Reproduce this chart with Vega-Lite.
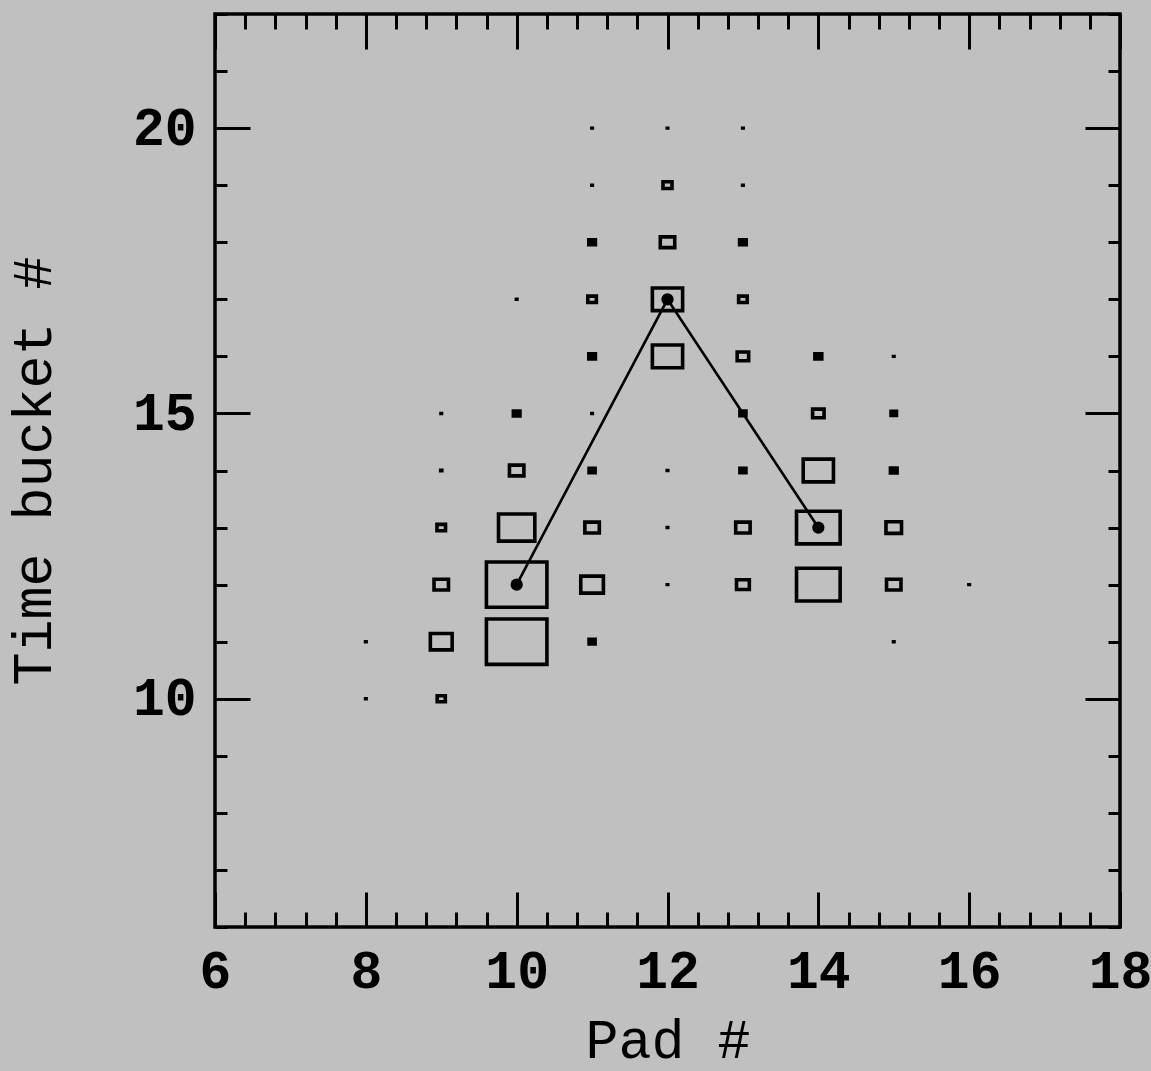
{
  "$schema": "https://vega.github.io/schema/vega-lite/v6.json",
  "width": 905,
  "height": 913,
  "autosize": {"type": "none"},
  "padding": {"left": 215, "top": 14, "right": 31, "bottom": 144},
  "background": "#c0c0c0",
  "config": {
    "view": {"stroke": "black", "strokeWidth": 3.5, "fill": null},
    "axis": {
      "domain": false,
      "grid": false,
      "tickColor": "black",
      "tickWidth": 3,
      "labelFont": "Liberation Mono",
      "labelFontWeight": "bold",
      "labelFontSize": 53,
      "labelColor": "black",
      "labelFlush": false,
      "labelOverlap": false,
      "labelBound": false,
      "titleFont": "Liberation Mono",
      "titleFontWeight": "normal",
      "titleFontSize": 55,
      "titleColor": "black"
    }
  },
  "datasets": {
    "cells": [
      {"pad": 8, "bucket": 11, "q": 0.2},
      {"pad": 8, "bucket": 10, "q": 0.2},
      {"pad": 9, "bucket": 15, "q": 0.2},
      {"pad": 9, "bucket": 14, "q": 0.3},
      {"pad": 9, "bucket": 13, "q": 2.0},
      {"pad": 9, "bucket": 12, "q": 5.7},
      {"pad": 9, "bucket": 11, "q": 13},
      {"pad": 9, "bucket": 10, "q": 1.8},
      {"pad": 10, "bucket": 17, "q": 0.2},
      {"pad": 10, "bucket": 15, "q": 1.2},
      {"pad": 10, "bucket": 14, "q": 5.7},
      {"pad": 10, "bucket": 13, "q": 36},
      {"pad": 10, "bucket": 12, "q": 100},
      {"pad": 10, "bucket": 11, "q": 100},
      {"pad": 11, "bucket": 20, "q": 0.2},
      {"pad": 11, "bucket": 19, "q": 0.2},
      {"pad": 11, "bucket": 18, "q": 1.2},
      {"pad": 11, "bucket": 17, "q": 2.0},
      {"pad": 11, "bucket": 16, "q": 1.2},
      {"pad": 11, "bucket": 15, "q": 0.2},
      {"pad": 11, "bucket": 14, "q": 1.0},
      {"pad": 11, "bucket": 13, "q": 5.7},
      {"pad": 11, "bucket": 12, "q": 14},
      {"pad": 11, "bucket": 11, "q": 1.0},
      {"pad": 12, "bucket": 20, "q": 0.2},
      {"pad": 12, "bucket": 19, "q": 2.2},
      {"pad": 12, "bucket": 18, "q": 5.7},
      {"pad": 12, "bucket": 17, "q": 25},
      {"pad": 12, "bucket": 16, "q": 25},
      {"pad": 12, "bucket": 14, "q": 0.2},
      {"pad": 12, "bucket": 13, "q": 0.2},
      {"pad": 12, "bucket": 12, "q": 0.2},
      {"pad": 13, "bucket": 20, "q": 0.2},
      {"pad": 13, "bucket": 19, "q": 0.2},
      {"pad": 13, "bucket": 18, "q": 1.2},
      {"pad": 13, "bucket": 17, "q": 2.0},
      {"pad": 13, "bucket": 16, "q": 3.6},
      {"pad": 13, "bucket": 15, "q": 1.0},
      {"pad": 13, "bucket": 14, "q": 1.0},
      {"pad": 13, "bucket": 13, "q": 5.7},
      {"pad": 13, "bucket": 12, "q": 4.5},
      {"pad": 14, "bucket": 16, "q": 1.3},
      {"pad": 14, "bucket": 15, "q": 3.6},
      {"pad": 14, "bucket": 14, "q": 25},
      {"pad": 14, "bucket": 13, "q": 52},
      {"pad": 14, "bucket": 12, "q": 52},
      {"pad": 15, "bucket": 16, "q": 0.2},
      {"pad": 15, "bucket": 15, "q": 0.8},
      {"pad": 15, "bucket": 14, "q": 1.2},
      {"pad": 15, "bucket": 13, "q": 6.6},
      {"pad": 15, "bucket": 12, "q": 5.7},
      {"pad": 15, "bucket": 11, "q": 0.2},
      {"pad": 16, "bucket": 12, "q": 0.2}
    ],
    "track": [
      {"pad": 10, "bucket": 12},
      {"pad": 12, "bucket": 17},
      {"pad": 14, "bucket": 13}
    ]
  },
  "layer": [
    {
      "data": {"name": "cells"},
      "mark": {
        "type": "point",
        "shape": "M-1,-0.75H1V0.75H-1Z",
        "filled": true,
        "stroke": "black",
        "opacity": 1
      },
      "encoding": {
        "x": {
          "field": "pad",
          "type": "quantitative",
          "scale": {"domain": [6, 18], "nice": false, "zero": false},
          "axis": {
            "orient": "bottom",
            "values": [6,6.4,6.8,7.2,7.6,8,8.4,8.8,9.2,9.6,10,10.4,10.8,11.2,11.6,12,12.4,12.8,13.2,13.6,14,14.4,14.8,15.2,15.6,16,16.4,16.8,17.2,17.6,18],
            "tickSize": {"condition": {"test": "abs(datum.value/2 - round(datum.value/2)) < 0.01", "value": -35}, "value": -15},
            "labelExpr": "abs(datum.value/2 - round(datum.value/2)) < 0.01 ? format(datum.value, 'd') : ''",
            "labelPadding": 53,
            "title": "Pad #",
            "titlePadding": -4
          }
        },
        "y": {
          "field": "bucket",
          "type": "quantitative",
          "scale": {"domain": [6, 22], "nice": false, "zero": false},
          "axis": {
            "orient": "left",
            "values": [6,7,8,9,10,11,12,13,14,15,16,17,18,19,20,21,22],
            "tickSize": {"condition": {"test": "datum.value % 5 === 0", "value": -35}, "value": -12},
            "labelExpr": "datum.value % 5 === 0 ? format(datum.value, 'd') : ''",
            "labelPadding": 54,
            "title": "Time bucket #",
            "titlePadding": 70
          }
        },
        "size": {
          "field": "q",
          "type": "quantitative",
          "scale": {"type": "linear", "domain": [0, 100], "range": [0, 3660]},
          "legend": null
        },
        "fill": {"condition": {"test": "datum.q < 1.4", "value": "black"}, "value": "transparent"},
        "strokeWidth": {"condition": {"test": "datum.q < 0.5", "value": 1.4}, "value": 3.6}
      }
    },
    {
      "data": {"name": "track"},
      "mark": {
        "type": "line",
        "color": "black",
        "strokeWidth": 2.6,
        "point": {"filled": true, "fill": "black", "color": "black", "size": 150}
      },
      "encoding": {
        "x": {
          "field": "pad",
          "type": "quantitative",
          "scale": {"domain": [6, 18], "nice": false, "zero": false},
          "axis": {
            "orient": "top",
            "values": [6,6.4,6.8,7.2,7.6,8,8.4,8.8,9.2,9.6,10,10.4,10.8,11.2,11.6,12,12.4,12.8,13.2,13.6,14,14.4,14.8,15.2,15.6,16,16.4,16.8,17.2,17.6,18],
            "tickSize": {"condition": {"test": "abs(datum.value/2 - round(datum.value/2)) < 0.01", "value": -35}, "value": -15},
            "labels": false,
            "title": null
          }
        },
        "y": {
          "field": "bucket",
          "type": "quantitative",
          "scale": {"domain": [6, 22], "nice": false, "zero": false},
          "axis": {
            "orient": "right",
            "values": [6,7,8,9,10,11,12,13,14,15,16,17,18,19,20,21,22],
            "tickSize": {"condition": {"test": "datum.value % 5 === 0", "value": -35}, "value": -12},
            "labels": false,
            "title": null
          }
        }
      }
    }
  ],
  "resolve": {"axis": {"x": "independent", "y": "independent"}}
}
